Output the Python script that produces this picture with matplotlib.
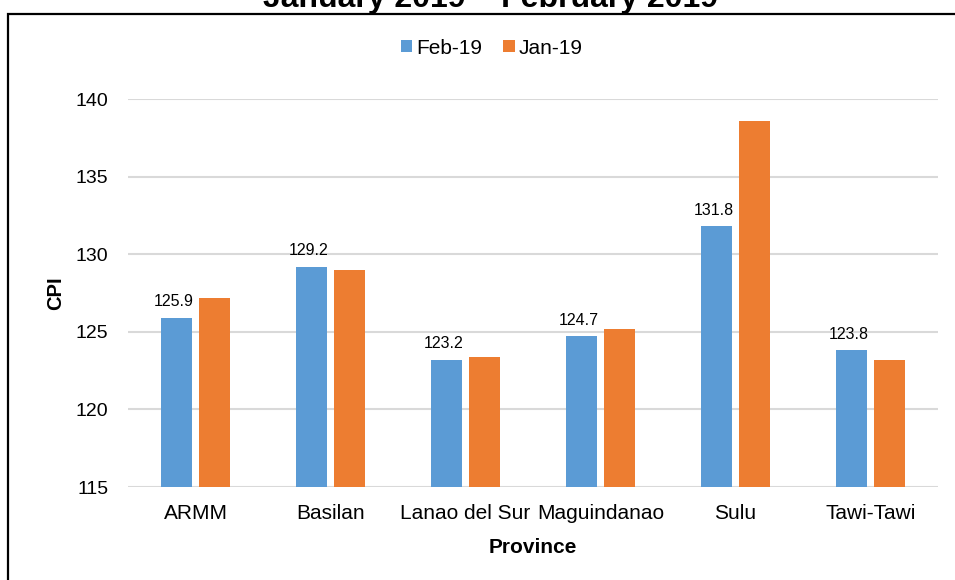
import matplotlib
matplotlib.use("Agg")
import matplotlib.pyplot as plt
import numpy as np
from matplotlib.patches import Rectangle

plt.rcParams['font.family'] = ['Liberation Sans', 'DejaVu Sans']

provinces = ["ARMM", "Basilan", "Lanao del Sur", "Maguindanao", "Sulu", "Tawi-Tawi"]
feb19 = [125.9, 129.2, 123.2, 124.7, 131.8, 123.8]
jan19 = [127.2, 129.0, 123.4, 125.2, 138.6, 123.2]
yticks = [115, 120, 125, 130, 135, 140]

W, H = 955, 580
fig = plt.figure(figsize=(W/100, H/100), dpi=100)
ax = fig.add_axes([128/W, 1-487/H, (938-128)/W, (487-99)/H])

x = np.arange(len(provinces))
bw = 0.227
off = 0.142
b1 = ax.bar(x - off, feb19, bw, color="#5B9BD5", label="Feb-19", zorder=3)
b2 = ax.bar(x + off, jan19, bw, color="#ED7D31", label="Jan-19", zorder=3)

for xi, v in zip(x, feb19):
    ax.text(xi - off - 0.02, v + 0.55, f"{v:.1f}", ha="center", va="bottom", fontsize=11.5)

ax.set_ylim(115, 140)
ax.set_xlim(-0.5, len(provinces) - 0.5)
ax.set_yticks(yticks)
ax.set_xticks(x)
ax.set_xticklabels(provinces, fontsize=15)
ax.tick_params(axis="y", labelsize=14, length=0, pad=14)
ax.tick_params(axis="x", length=0, pad=12)
ax.grid(axis="y", color="#d9d9d9", linewidth=1.5, zorder=0)
for s in ax.spines.values():
    s.set_visible(False)

ax.set_ylabel("CPI", fontsize=14.5, fontweight="bold", labelpad=8)
ax.set_xlabel("Province", fontsize=15, fontweight="bold", labelpad=11)

leg = fig.legend(handles=[b1, b2], loc="center", bbox_to_anchor=(492/W, 1-48/H),
                 ncol=2, frameon=False, fontsize=15, handlelength=0.55, handleheight=0.55,
                 columnspacing=1.0, handletextpad=0.2)

fig.text(490/W, 1-7/H, "January 2019 – February 2019", ha="center", va="baseline",
         fontsize=23, fontweight="bold")

fig.patches.append(Rectangle((8/W, -0.1), 1.1, 1.1 - 14/H, transform=fig.transFigure,
                             fill=False, edgecolor="black", linewidth=1.6, zorder=10))

fig.savefig("out.png", dpi=100)
